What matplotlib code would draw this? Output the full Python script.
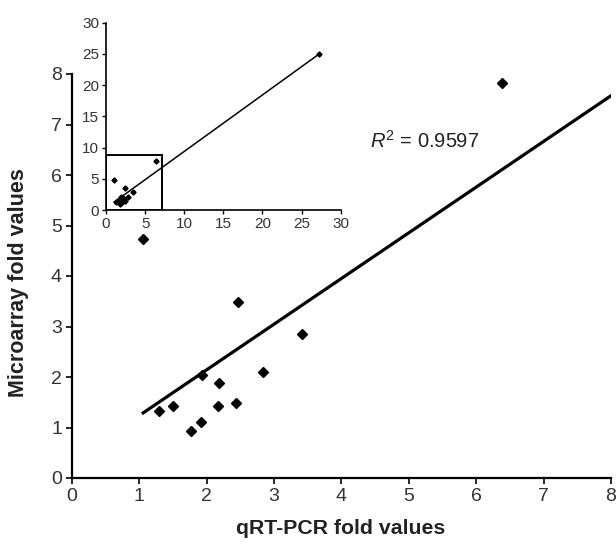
import numpy as np
import matplotlib
matplotlib.use("Agg")
import matplotlib.pyplot as plt
from matplotlib.patches import Rectangle

plt.rcParams['font.family'] = ['Liberation Sans', 'DejaVu Sans']
plt.rcParams['mathtext.fontset'] = 'custom'
plt.rcParams['mathtext.rm'] = 'Liberation Sans'
plt.rcParams['mathtext.it'] = 'Liberation Sans:italic'

# qRT-PCR vs microarray fold changes
qpcr_fold = [2.47, 3.41, 1.94, 2.84, 2.19, 1.30, 1.51, 2.17, 2.43, 1.92, 1.77, 1.06, 6.39, 27.27]
array_fold = [3.49, 2.85, 2.04, 2.10, 1.88, 1.32, 1.43, 1.43, 1.49, 1.10, 0.93, 4.74, 7.83, 24.98]

# linear trend line and its R^2
fit_slope = 0.905
fit_intercept = 0.33
r_squared = 0.9597

# zoom box drawn in the inset
box_width = 7.15
box_height = 8.85

main_ticks = list(range(0, 9))
inset_ticks = list(range(0, 31, 5))

fig = plt.figure(figsize=(6.16, 5.44), dpi=100)

# --> main panel
ax = fig.add_axes([71.7 / 616, 66 / 544, (611 - 71.7) / 616, (478 - 74) / 544])
ax.plot(qpcr_fold, array_fold, linestyle='none', marker='D', markersize=5.5,
        color='black', zorder=3)
x_line = np.array([min(qpcr_fold), max(qpcr_fold)])
ax.plot(x_line, fit_slope * x_line + fit_intercept, color='black', linewidth=2.3)

ax.set_xlim(0, 8)
ax.set_ylim(0, 8)
ax.set_xticks(main_ticks)
ax.set_yticks(main_ticks)
for side in ['top', 'right']:
    ax.spines[side].set_visible(False)
for side in ['left', 'bottom']:
    ax.spines[side].set_linewidth(1.6)
ax.tick_params(axis='both', labelsize=14, width=1.2, length=4, pad=3,
               color='black', labelcolor='#333333')

ax.text(4.42, 6.68, f'$R^2$ = {r_squared}', fontsize=14.5, color='#222222',
        va='center', ha='left')

fig.text(341 / 616, (544 - 529) / 544, 'qRT-PCR fold values', fontsize=15.3,
         fontweight='bold', ha='center', va='center', color='#222222')
fig.text(19 / 616, (544 - 283) / 544, 'Microarray fold values', fontsize=15.5,
         fontweight='bold', ha='center', va='center', rotation=90, color='#222222')

# --> inset with the full range
axin = fig.add_axes([106 / 616, (544 - 210) / 544, (340.7 - 106) / 616, (210 - 22.7) / 544])
axin.patch.set_alpha(0)
axin.plot(qpcr_fold, array_fold, linestyle='none', marker='D', markersize=2.6,
          color='black', zorder=3)
axin.plot(x_line, fit_slope * x_line + fit_intercept, color='black', linewidth=1.1)
axin.add_patch(Rectangle((0, 0), box_width, box_height, fill=False,
                         edgecolor='black', linewidth=1.4))
axin.set_xlim(0, 30)
axin.set_ylim(0, 30)
axin.set_xticks(inset_ticks)
axin.set_yticks(inset_ticks)
for side in ['top', 'right']:
    axin.spines[side].set_visible(False)
for side in ['left', 'bottom']:
    axin.spines[side].set_linewidth(1.2)
axin.tick_params(axis='both', labelsize=11, width=1, length=3, pad=2, labelcolor='#333333')

plt.savefig('out.png', dpi=100)
